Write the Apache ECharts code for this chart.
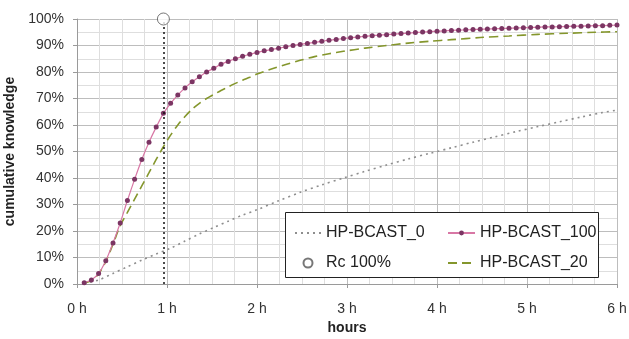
<!DOCTYPE html>
<html>
<head>
<meta charset="utf-8">
<script src="https://cdn.jsdelivr.net/npm/echarts@6/dist/echarts.min.js"></script>
<style>html,body{margin:0;padding:0;background:#fff;}#c{width:629px;height:339px;}</style>
</head>
<body>
<div id="c"></div>
<script>
// HP-BCAST_100 (markers every 0.08 h)
const hours100 = [0.08,0.16,0.24,0.32,0.40,0.48,0.56,0.64,0.72,0.80,0.88,0.96,1.04,1.12,1.20,1.28,1.36,1.44,1.52,1.60,1.68,1.76,1.84,1.92,2.00,2.08,2.16,2.24,2.32,2.40,2.48,2.56,2.64,2.72,2.80,2.88,2.96,3.04,3.12,3.20,3.28,3.36,3.44,3.52,3.60,3.68,3.76,3.84,3.92,4.00,4.08,4.16,4.24,4.32,4.40,4.48,4.56,4.64,4.72,4.80,4.88,4.96,5.04,5.12,5.20,5.28,5.36,5.44,5.52,5.60,5.68,5.76,5.84,5.92,6.00];
const bcast100 = [0.5,1.5,4.0,8.8,15.5,23.0,31.5,39.5,47.0,53.5,59.2,64.4,68.2,71.3,74.0,76.3,78.2,80.0,81.4,82.9,84.0,85.0,85.9,86.7,87.4,88.0,88.5,89.0,89.5,90.0,90.4,90.8,91.2,91.6,92.0,92.3,92.6,92.9,93.2,93.5,93.7,93.9,94.1,94.3,94.5,94.7,94.9,95.1,95.2,95.4,95.5,95.7,95.8,95.9,96.0,96.1,96.2,96.3,96.4,96.5,96.6,96.7,96.8,96.9,97.0,97.0,97.1,97.2,97.3,97.3,97.4,97.5,97.5,97.6,97.7];
// HP-BCAST_20
const hours20 = [0.08,0.16,0.24,0.32,0.40,0.48,0.56,0.64,0.72,0.80,0.88,0.96,1.04,1.12,1.20,1.28,1.36,1.44,1.52,1.60,1.68,1.76,1.84,1.92,2.00,2.16,2.32,2.48,2.64,2.80,2.96,3.20,3.44,3.68,3.92,4.16,4.48,4.80,5.12,5.44,5.76,6.00];
const bcast20 = [0.3,1.3,3.8,8.5,15.0,22.0,27.0,32.0,37.0,42.0,47.0,51.8,56.2,60.0,63.2,66.0,68.2,70.0,71.5,73.0,74.4,75.7,76.9,78.0,79.2,81.1,82.8,84.4,85.8,86.9,87.8,89.0,90.0,90.9,91.6,92.2,93.0,93.6,94.2,94.6,95.0,95.2];
// HP-BCAST_0
const hours0 = [0.08,0.24,0.40,0.56,0.72,0.88,1.04,1.20,1.36,1.52,1.68,1.84,2.00,2.24,2.48,2.72,2.96,3.20,3.44,3.68,3.92,4.16,4.40,4.64,4.88,5.12,5.36,5.60,5.84,6.00];
const bcast0 = [0.2,1.5,4.0,6.5,9.0,11.3,13.5,16.2,18.9,21.3,23.7,26.0,28.0,31.4,34.6,37.4,40.0,42.5,44.9,47.2,49.3,51.4,53.5,55.5,57.5,59.4,61.2,63.0,64.7,65.6];
// Rc 100%
const rcHour = [0.96];
const rcValue = [100];

const xTicks = ['0 h','1 h','2 h','3 h','4 h','5 h','6 h'];
const font = 'Liberation Sans, Arial, sans-serif';

const pairs = (xs, ys) => xs.map((x, i) => [x, ys[i]]);

const chart = echarts.init(document.getElementById('c'), null, {renderer: 'canvas'});
chart.setOption({
  animation: false,
  backgroundColor: '#fff',
  textStyle: {fontFamily: font},
  grid: {left: 77, right: 12, top: 19, bottom: 55, containLabel: false, outerBoundsMode: 'none'},
  xAxis: {
    type: 'value', min: 0, max: 6, interval: 1,
    name: 'hours', nameLocation: 'middle', nameGap: 36,
    nameTextStyle: {fontFamily: font, fontWeight: 'bold', fontSize: 14, color: '#222'},
    axisLine: {show: true, lineStyle: {color: '#9a9a9a', width: 1}},
    axisTick: {show: true, length: 4, lineStyle: {color: '#9a9a9a'}},
    axisLabel: {formatter: v => xTicks[Math.round(v)], fontSize: 14, color: '#333', margin: 18, fontFamily: font},
    splitLine: {show: true, lineStyle: {color: '#bdbdbd', width: 1}},
    minorTick: {show: false, splitNumber: 4},
    minorSplitLine: {show: true, lineStyle: {color: '#dedede', width: 1}}
  },
  yAxis: {
    type: 'value', min: 0, max: 100, interval: 10,
    name: 'cumulative knowledge', nameLocation: 'middle', nameGap: 47,
    nameTextStyle: {fontFamily: font, fontWeight: 'bold', fontSize: 14, color: '#222'},
    axisLine: {show: true, lineStyle: {color: '#9a9a9a', width: 1}},
    axisTick: {show: true, length: 4, lineStyle: {color: '#9a9a9a'}},
    axisLabel: {formatter: '{value}%', fontSize: 14, color: '#333', margin: 13, fontFamily: font},
    splitLine: {show: true, lineStyle: {color: '#bdbdbd', width: 1}},
    minorTick: {show: false, splitNumber: 2},
    minorSplitLine: {show: true, lineStyle: {color: '#dedede', width: 1}}
  },
  legend: [
    {
      orient: 'vertical', left: 289, top: 220, itemWidth: 26, itemHeight: 9, itemGap: 14,
      data: [
        {name: 'HP-BCAST_0', itemStyle: {opacity: 0}},
        {name: 'Rc 100%'}
      ],
      textStyle: {fontSize: 16, color: '#222', fontFamily: font}
    },
    {
      orient: 'vertical', left: 442, top: 220, itemWidth: 27, itemHeight: 6, itemGap: 14,
      data: [
        {name: 'HP-BCAST_100'},
        {name: 'HP-BCAST_20', itemStyle: {opacity: 0}}
      ],
      textStyle: {fontSize: 16, color: '#222', fontFamily: font}
    }
  ],
  graphic: [{
    type: 'rect', left: 285, top: 212, z: 3,
    shape: {width: 313, height: 65},
    style: {fill: '#fff', stroke: '#222', lineWidth: 1}
  }],
  series: [
    {
      name: 'HP-BCAST_0', type: 'line', data: pairs(hours0, bcast0),
      showSymbol: false, symbol: 'none', smooth: 0.3,
      lineStyle: {color: '#8e8e8e', width: 1.6, type: [2, 4]},
      itemStyle: {color: '#8e8e8e'}, z: 2
    },
    {
      name: 'HP-BCAST_20', type: 'line', data: pairs(hours20, bcast20),
      showSymbol: false, symbol: 'none', smooth: 0.3,
      lineStyle: {color: '#84962c', width: 1.6, type: [9, 5]},
      itemStyle: {color: '#84962c'}, z: 3
    },
    {
      name: 'HP-BCAST_100', type: 'line', data: pairs(hours100, bcast100),
      symbol: 'circle', symbolSize: 5, showSymbol: true, smooth: 0.2,
      lineStyle: {color: '#d877a5', width: 1.2},
      itemStyle: {color: '#7b3563', borderWidth: 0}, z: 4
    },
    {
      name: 'Rc 100%', type: 'scatter', data: pairs(rcHour, rcValue),
      symbol: 'circle', symbolSize: 12, clip: false,
      itemStyle: {color: '#fff', borderColor: '#555', borderWidth: 1}, z: 6,
      markLine: {
        silent: true, symbol: 'none', label: {show: false},
        lineStyle: {color: '#111', width: 1.5, type: [2, 3]},
        data: [{xAxis: rcHour[0]}]
      }
    }
  ]
});
</script>
</body>
</html>
